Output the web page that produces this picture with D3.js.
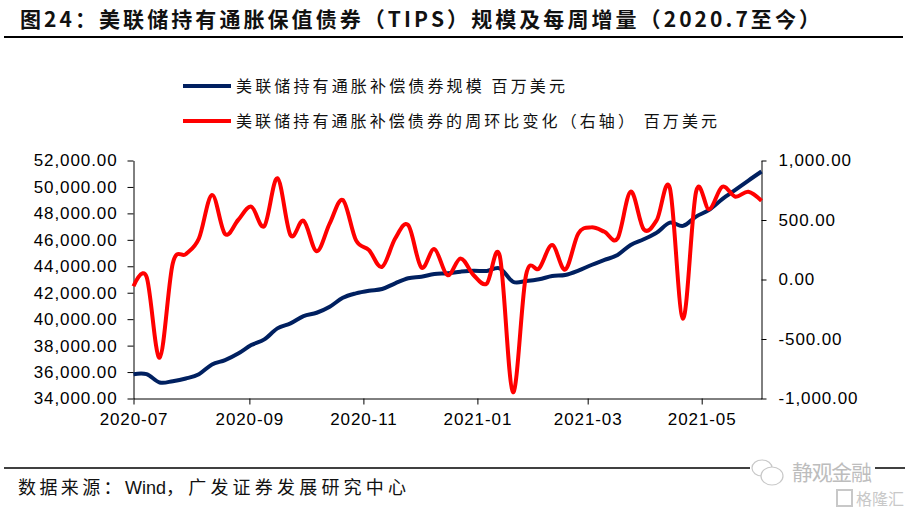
<!DOCTYPE html>
<html><head><meta charset="utf-8">
<script src="https://cdn.jsdelivr.net/npm/d3@7"></script>
<style>body{margin:0;background:#fff;} svg{display:block}</style>
</head><body><svg id="c" width="911" height="517"></svg>
<script>
// ---------- data ----------
const dates = ["2020-07-01","2020-07-08","2020-07-15","2020-07-22","2020-07-29","2020-08-05","2020-08-12","2020-08-19","2020-08-26",
"2020-09-02","2020-09-09","2020-09-16","2020-09-23","2020-09-30","2020-10-07","2020-10-14","2020-10-21","2020-10-28",
"2020-11-04","2020-11-11","2020-11-18","2020-11-25","2020-12-02","2020-12-09","2020-12-16","2020-12-23","2020-12-30",
"2021-01-06","2021-01-13","2021-01-20","2021-01-27","2021-02-03","2021-02-10","2021-02-17","2021-02-24",
"2021-03-03","2021-03-10","2021-03-17","2021-03-24","2021-03-31","2021-04-07","2021-04-14","2021-04-21","2021-04-28",
"2021-05-05","2021-05-12","2021-05-19","2021-05-26","2021-06-02"];
const holdings = [35841,35841,35212,35311,35515,35841,36576,36900,37400,38038,38470,39303,39682,40235,40485,40940,
41621,41955,42152,42280,42712,43090,43212,43417,43470,43591,43667,43644,43848,42833,42886,43015,43265,43341,
43667,44098,44477,44856,45614,46045,46545,47303,47053,47758,48265,49076,49780,50485,51167];
const weeklyChange = [-56,22,-657,135,213,345,710,382,500,612,449,851,373,494,238,472,668,331,247,106,345,457,101,255,36,
177,36,-34,196,-947,36,93,289,84,387,438,401,345,738,421,500,767,-329,738,590,780,696,738,662];
const leftTicks = [34000,36000,38000,40000,42000,44000,46000,48000,50000,52000];
const rightTicks = [-1000,-500,0,500,1000];
const xTickLabels = ["2020-07","2020-09","2020-11","2021-01","2021-03","2021-05"];
const titleText = "图24：美联储持有通胀保值债券（TIPS）规模及每周增量（2020.7至今）";
const seriesNames = ["美联储持有通胀补偿债券规模 百万美元","美联储持有通胀补偿债券的周环比变化（右轴） 百万美元"];
const sourceParts = ["数据来源：", "Wind", "，广发证券发展研究中心"];

// ---------- chart ----------
const svg = d3.select("#c");
const parseDay = d3.timeParse("%Y-%m-%d");
const parseMonth = d3.timeParse("%Y-%m");
const dd = dates.map(parseDay);
const blue = "#002060", red = "#FF0000";
const latin = "'Liberation Sans', Arial, sans-serif";
const cjk = "'Noto Sans CJK SC', sans-serif";

const x = d3.scaleTime().domain([dd[0], dd[dd.length-1]]).range([133.5, 761.5]);
const yL = d3.scaleLinear().domain([34000, 52000]).range([398.5, 160.5]);
const yR = d3.scaleLinear().domain([-1000, 1000]).range([398.5, 160.5]);

// title
svg.append("text").attr("x", 20).attr("y", 27)
  .attr("font-family", cjk).attr("font-weight", "bold").attr("font-size", 21)
  .attr("fill", "#111").attr("textLength", 800).attr("lengthAdjust", "spacing")
  .text(titleText);
svg.append("line").attr("x1", 4).attr("x2", 903).attr("y1", 37).attr("y2", 37)
  .attr("stroke", "#000").attr("stroke-width", 2);

// legend
const legendY = [86, 121];
const legendW = [329, 481];
[blue, red].forEach((c, i) => {
  svg.append("line").attr("x1", 183).attr("x2", 231).attr("y1", legendY[i]).attr("y2", legendY[i])
    .attr("stroke", c).attr("stroke-width", 4);
  svg.append("text").attr("x", 236).attr("y", legendY[i]).attr("dy", "0.36em")
    .attr("font-family", cjk).attr("font-size", 16).attr("fill", "#111")
    .attr("textLength", legendW[i]).attr("lengthAdjust", "spacing")
    .text(seriesNames[i]);
});

// axes
const locale = d3.formatLocale({decimal: ".", thousands: ",", grouping: [3], currency: ["", ""], minus: "-"});
const fmt = locale.format(",.2f");
function styleAxis(g) {
  g.selectAll("path,line").attr("stroke", "#000").attr("stroke-width", 1);
  g.selectAll("text").attr("font-family", latin).attr("font-size", 17)
    .attr("letter-spacing", "0.9px").attr("fill", "#000");
}
svg.append("g").attr("transform", "translate(133.5,0)")
  .call(d3.axisLeft(yL).tickValues(leftTicks).tickFormat(fmt).tickSize(6).tickSizeOuter(0).tickPadding(10))
  .call(styleAxis);
svg.append("g").attr("transform", "translate(761.5,0)")
  .call(d3.axisRight(yR).tickValues(rightTicks).tickFormat(fmt).tickSize(5).tickSizeOuter(0).tickPadding(12))
  .call(styleAxis);
svg.append("g").attr("transform", "translate(0,398.5)")
  .call(d3.axisBottom(x).tickValues(xTickLabels.map(parseMonth)).tickFormat(d3.timeFormat("%Y-%m"))
    .tickSize(6).tickSizeOuter(0).tickPadding(8))
  .call(styleAxis);

// lines
const curve = d3.curveCardinal.tension(0);
svg.append("path").datum(holdings)
  .attr("d", d3.line().x((d, i) => x(dd[i])).y(d => yL(d)).curve(curve))
  .attr("fill", "none").attr("stroke", blue).attr("stroke-width", 4).attr("stroke-linejoin", "round");
svg.append("path").datum(weeklyChange)
  .attr("d", d3.line().x((d, i) => x(dd[i])).y(d => yR(d)).curve(curve))
  .attr("fill", "none").attr("stroke", red).attr("stroke-width", 4).attr("stroke-linejoin", "round");

// footer
svg.append("line").attr("x1", 4).attr("x2", 905).attr("y1", 468).attr("y2", 468)
  .attr("stroke", "#000").attr("stroke-width", 1.5);
const src = svg.append("text").attr("x", 18).attr("y", 494)
  .attr("font-family", cjk).attr("font-size", 18).attr("fill", "#111");
src.append("tspan").attr("letter-spacing", "3.4px").text(sourceParts[0]);
src.append("tspan").attr("font-family", latin).attr("font-size", 18).text(sourceParts[1]);
src.append("tspan").attr("letter-spacing", "4.2px").text(sourceParts[2]);

// watermark
const wm = svg.append("g");
wm.append("rect").attr("x", 750).attr("y", 458).attr("width", 125).attr("height", 26).attr("fill", "#fff");
wm.append("ellipse").attr("cx", 762).attr("cy", 468).attr("rx", 10).attr("ry", 8)
  .attr("fill", "#fff").attr("stroke", "#c8c8c8").attr("stroke-width", 1.2);
wm.append("ellipse").attr("cx", 772).attr("cy", 476).attr("rx", 11).attr("ry", 9)
  .attr("fill", "#fff").attr("stroke", "#c8c8c8").attr("stroke-width", 1.2);
wm.append("text").attr("x", 792).attr("y", 480).attr("font-family", cjk).attr("font-size", 21)
  .attr("fill", "#bdbdbd").attr("textLength", 80).attr("lengthAdjust", "spacing").text("静观金融");
wm.append("rect").attr("x", 837).attr("y", 490).attr("width", 15).attr("height", 16)
  .attr("fill", "none").attr("stroke", "#c8c8c8").attr("stroke-width", 2);
wm.append("text").attr("x", 856).attr("y", 505).attr("font-family", cjk).attr("font-size", 16)
  .attr("fill", "#c8c8c8").attr("textLength", 48).attr("lengthAdjust", "spacing").text("格隆汇");
</script></body></html>
